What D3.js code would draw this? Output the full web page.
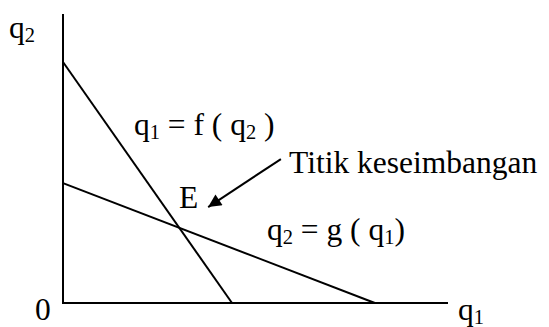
<!DOCTYPE html>
<html lang="en">
<head>
<meta charset="UTF-8"/>
<title>Titik keseimbangan</title>
<script src="https://d3js.org/d3.v7.min.js"></script>
<style>
	body { margin: 0; background: #fff; }
</style>
</head>
<body>
<script>
	var w = 549;
	var h = 327;

	// axis extents (q units)
	var xMax = 10;
	var yMax = 10;

	// q1 = f(q2): intercepts on q2 axis and q1 axis
	var fLine = [[0, 8.34], [4.39, 0]];
	// q2 = g(q1)
	var gLine = [[0, 4.15], [8.10, 0]];

	// arrow pointing at the equilibrium, from label towards E
	var arrowPts = [[5.66, 4.98], [3.77, 3.32]];

	var xScale = d3.scaleLinear()
		.domain([0, xMax])
		.range([63, 448]);

	var yScale = d3.scaleLinear()
		.domain([0, yMax])
		.range([303, 14]);

	var svg = d3.select("body")
		.append("svg")
		.attr("width", w)
		.attr("height", h)
		.attr("font-family", "'Liberation Serif', 'Times New Roman', Times, serif");

	var line = d3.line()
		.x(function(d) { return xScale(d[0]); })
		.y(function(d) { return yScale(d[1]); });

	// axes
	svg.append("path")
		.attr("d", line([[0, yMax], [0, 0], [xMax, 0]]))
		.attr("fill", "none")
		.attr("stroke", "#000")
		.attr("stroke-width", 2);

	svg.selectAll("path.curve")
		.data([fLine, gLine])
		.enter()
		.append("path")
		.attr("class", "curve")
		.attr("d", line)
		.attr("fill", "none")
		.attr("stroke", "#000")
		.attr("stroke-width", 2);

	// arrow
	svg.append("defs").append("marker")
		.attr("id", "head")
		.attr("viewBox", "0 0 10 10")
		.attr("refX", 10)
		.attr("refY", 5)
		.attr("markerUnits", "userSpaceOnUse")
		.attr("markerWidth", 17)
		.attr("markerHeight", 13)
		.attr("orient", "auto")
		.append("path")
		.attr("d", "M0,0 L10,5 L0,10 z")
		.attr("fill", "#000");

	svg.append("path")
		.attr("d", line(arrowPts))
		.attr("stroke", "#000")
		.attr("stroke-width", 2)
		.attr("marker-end", "url(#head)");

	var fs = 31.5;

	function label(x, y, parts) {
		var t = svg.append("text")
			.attr("x", x)
			.attr("y", y)
			.attr("font-size", fs)
			.attr("fill", "#000");
		var shifted = false;
		parts.forEach(function(p) {
			var s = t.append("tspan");
			if (p.sub) {
				s.attr("dy", 4).attr("font-size", fs * 0.65).text(p.sub);
				shifted = true;
			} else {
				if (shifted) s.attr("dy", -4);
				shifted = false;
				s.text(p.t);
			}
		});
		return t;
	}

	label(9, 38, [{t: "q"}, {sub: "2"}]);
	label(134, 135, [{t: "q"}, {sub: "1"}, {t: " = f ( q"}, {sub: "2"}, {t: " )"}]);
	label(289, 173, [{t: "Titik keseimbangan"}]);
	label(179, 208, [{t: "E"}]);
	label(267, 240, [{t: "q"}, {sub: "2"}, {t: " = g ( q"}, {sub: "1"}, {t: ")"}]);
	label(35, 320, [{t: "0"}]);
	label(458, 320, [{t: "q"}, {sub: "1"}]);
</script>
</body>
</html>
